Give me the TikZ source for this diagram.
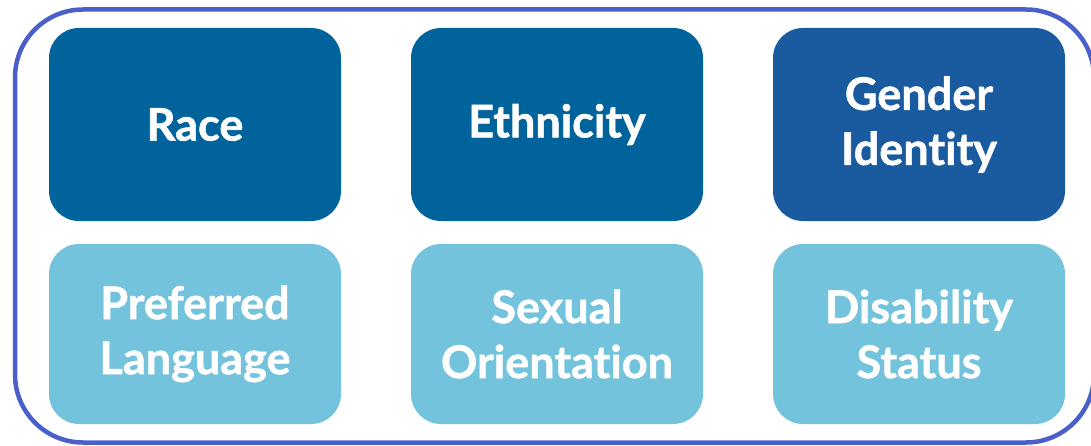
\documentclass[tikz,border=0pt]{standalone}
\usepackage{fontspec}
\setmainfont{Lato}[Ligatures=NoCommon, BoldFeatures={FakeBold=1.2}]
\usetikzlibrary{positioning}
\definecolor{frameblue}{HTML}{4A5FC9}
\definecolor{darkbox}{HTML}{00639C}
\definecolor{midbox}{HTML}{1A5A9F}
\definecolor{lightbox}{HTML}{73C3DC}

\begin{document}
\begin{tikzpicture}[
node distance=70pt,
    X/.style = {rectangle, rounded corners=30pt, text=white,% styles of the category boxes
                minimum width=292pt, minimum height=193pt,
                inner sep=0pt, outer sep=0pt, align=center,
                font=\fontsize{45}{55}\selectfont\bfseries},
    Y/.style = {X, fill=lightbox, minimum height=180pt},% lower row
                        ]
\useasboundingbox (0,0) rectangle (1091pt,445pt);
\draw[frameblue, line width=4.5pt, rounded corners=68pt]
    (15pt,2.5pt) rectangle (1094pt,435.5pt);
% upper row
\node[X, fill=darkbox] (race) at (195pt,320.5pt) {Race};
\node[X, fill=darkbox, right=of race] (ethnicity) {Ethnicity};
\node[X, fill=midbox, right=of ethnicity] (gender) {Gender\\Identity};
% lower row
\node[Y, below=23pt of race] (language) {Preferred\\Language};
\node[Y, below=23pt of ethnicity] (orientation) {Sexual\\Orientation};
\node[Y, below=23pt of gender] (disability) {Disability\\Status};
\end{tikzpicture}
\end{document}
